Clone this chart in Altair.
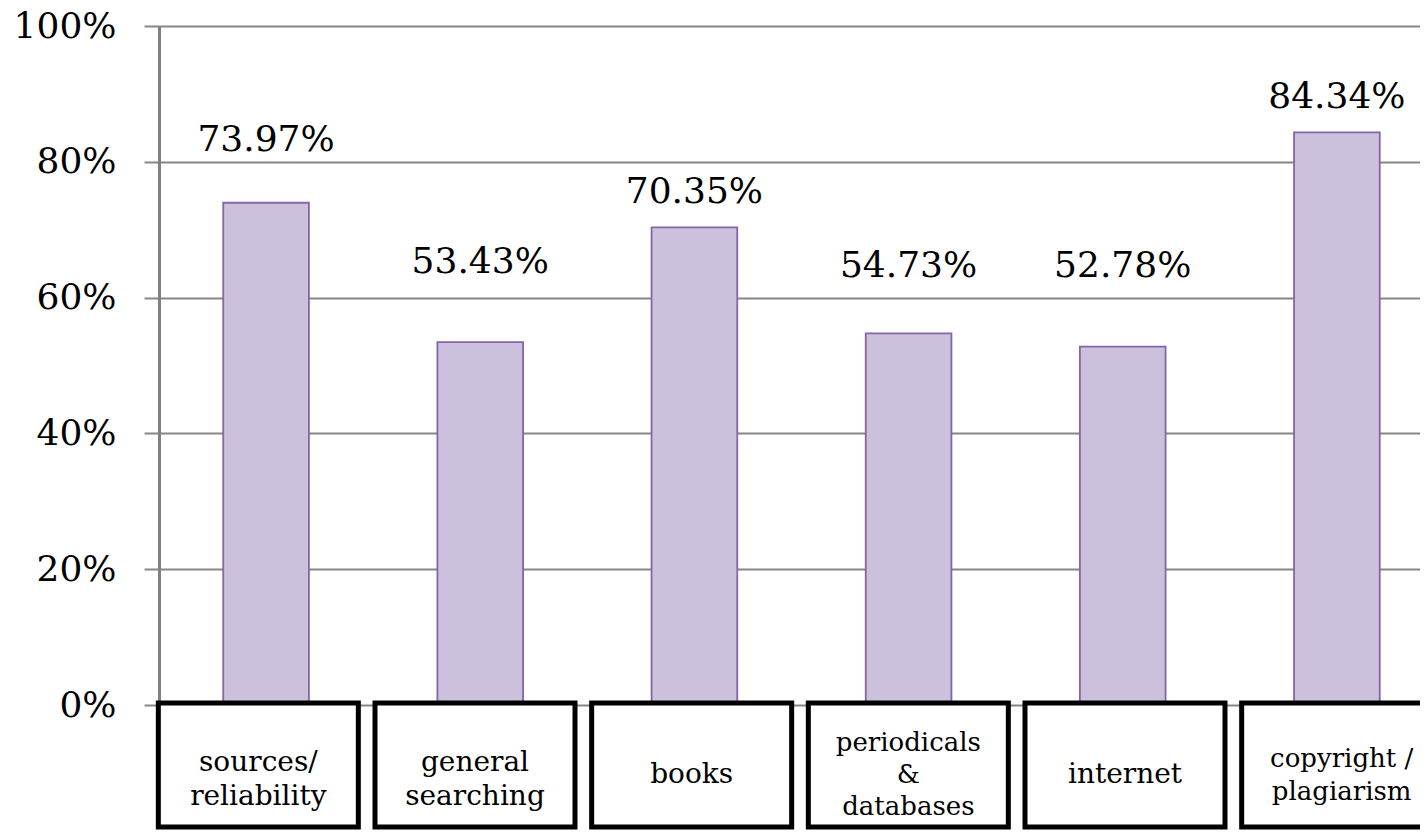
import json
import altair as alt
import pandas as pd

categories = ["sources/reliability", "general searching", "books",
              "periodicals & databases", "internet", "copyright / plagiarism"]
values = [73.97, 53.43, 70.35, 54.73, 52.78, 84.34]
box_text = ["sources/\nreliability", "general\nsearching", "books",
            "periodicals\n&\ndatabases", "internet", "copyright /\nplagiarism"]
# label anchor heights (in % units) as placed in the original
label_anchor = [83.2, 65.2, 75.6, 64.7, 64.7, 89.5]
small_text_cats = ["periodicals & databases", "copyright / plagiarism"]
y_ticks = [0, 0.2, 0.4, 0.6, 0.8, 1.0]

df = pd.DataFrame({
    "cat": categories,
    "value": [v / 100 for v in values],
    "label_y": [v / 100 for v in label_anchor],
    "box": box_text,
})

FONT = "DejaVu Serif"

x = alt.X("cat:N", sort=categories,
          scale=alt.Scale(domain=categories, range=[0, 1285],
                          paddingInner=0.6, paddingOuter=0.3),
          axis=None)
# the category boxes under the axis sit on a slightly wider spacing
xb = alt.X("cat:N", sort=categories,
           scale=alt.Scale(domain=categories, range=[-9, 1291],
                           paddingInner=0.6, paddingOuter=0.3),
           axis=None)

y_scale = alt.Scale(domain=[0, 1], nice=False)

bars = alt.Chart(df).mark_bar(fill="#CBC1DC", stroke="#8466A8", strokeWidth=1.8).encode(
    x=x,
    y=alt.Y("value:Q", scale=y_scale,
            axis=alt.Axis(values=y_ticks, format=".0%", grid=True,
                          gridColor="#868686", gridWidth=2,
                          domainColor="#808080", domainWidth=3,
                          tickColor="#868686", tickWidth=2, tickSize=15,
                          labelFont=FONT, labelFontSize=36, labelColor="black",
                          labelPadding=28, title=None)),
)

labels = alt.Chart(df).mark_text(font=FONT, fontSize=36, baseline="middle",
                                 color="black").encode(
    x=x,
    y=alt.Y("label_y:Q", scale=y_scale),
    text=alt.Text("value:Q", format=".2%"),
)

boxes = alt.Chart(df).mark_bar(size=200, fill="white", stroke="black",
                               strokeWidth=5).encode(
    x=xb,
    y=alt.value(677),
    y2=alt.value(801),
)

base_txt = alt.Chart(df).transform_calculate(
    nlines="length(split(datum.box, '\\n'))",
    small="indexof(" + json.dumps(small_text_cats) + ", datum.cat) >= 0",
)

one_line = base_txt.transform_filter("datum.nlines == 1").mark_text(
    font=FONT, fontSize=28, baseline="middle", color="black"
).encode(x=xb, y=alt.value(749), text="box:N")

two_line_big = base_txt.transform_filter("datum.nlines == 2 && !datum.small").mark_text(
    font=FONT, fontSize=28, lineBreak="\n", lineHeight=34, baseline="middle", color="black"
).encode(x=xb, y=alt.value(737), text="box:N")

two_line_small = base_txt.transform_filter("datum.nlines == 2 && datum.small").mark_text(
    font=FONT, fontSize=26, lineBreak="\n", lineHeight=33, baseline="middle", color="black"
).encode(x=xb, y=alt.value(733), text="box:N")

three_line = base_txt.transform_filter("datum.nlines == 3").mark_text(
    font=FONT, fontSize=26, lineBreak="\n", lineHeight=32, baseline="middle", color="black"
).encode(x=xb, y=alt.value(717), text="box:N")

chart = alt.layer(bars, labels, boxes, one_line, two_line_big, two_line_small,
                  three_line).resolve_scale(x="independent").properties(
    width=1261,
    height=679,
    padding={"left": 151, "top": 18, "right": 0, "bottom": 125},
    autosize=alt.AutoSizeParams(type="none"),
).configure_view(stroke=None)

chart.save("out.html", embed_options={"renderer": "svg", "actions": False})
